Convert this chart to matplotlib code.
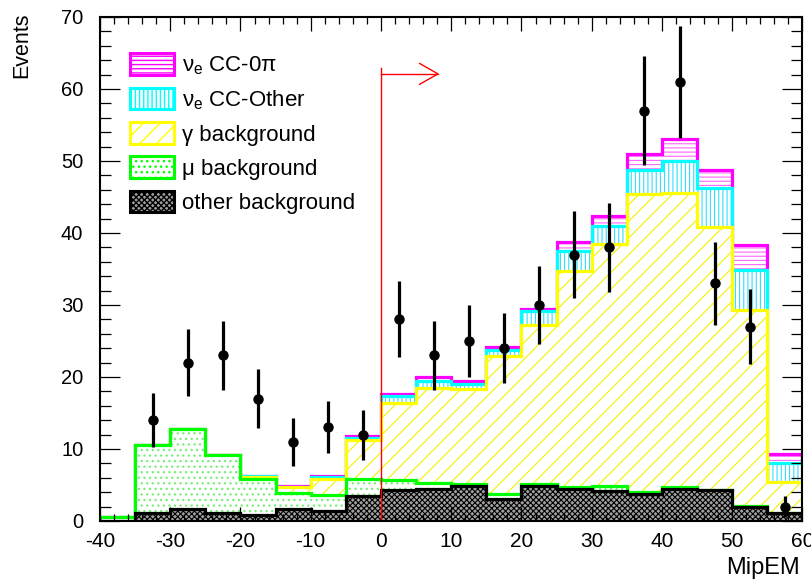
import numpy as np
import matplotlib
matplotlib.use("Agg")
import matplotlib.pyplot as plt
from matplotlib.patches import Patch
from matplotlib.ticker import MultipleLocator

plt.rcParams['font.family'] = ['Liberation Sans', 'DejaVu Sans']
plt.rcParams['mathtext.fontset'] = 'custom'
plt.rcParams['mathtext.rm'] = 'Liberation Sans'
plt.rcParams['axes.unicode_minus'] = False
plt.rcParams['hatch.linewidth'] = 1.0

# MipEM binning
bin_edges = np.arange(-40, 61, 5)

# per-component expected events (stack order bottom -> top)
other_bkg = [0.0, 1.1, 1.65, 1.15, 0.9, 1.6, 1.4, 3.45, 4.3, 4.5,
             4.85, 3.05, 4.85, 4.45, 4.15, 3.7, 4.5, 4.3, 2.0, 1.05]
mu_bkg = [0.6, 9.4, 11.15, 7.95, 4.9, 2.3, 2.2, 2.35, 1.4, 0.8,
          0.25, 0.7, 0.25, 0.25, 0.7, 0.35, 0.25, 0.05, 0.05, 0.05]
gamma_bkg = [0.0, 0.0, 0.0, 0.0, 0.35, 0.8, 2.2, 5.45, 10.7, 13.2,
             13.3, 19.15, 22.1, 30.0, 33.65, 41.35, 40.85, 36.55, 27.25, 4.3]
nue_cc_other = [0.0, 0.0, 0.0, 0.0, 0.1, 0.05, 0.35, 0.3, 0.9, 1.0,
                0.6, 0.8, 1.9, 2.8, 2.5, 3.35, 4.4, 5.4, 5.6, 2.7]
nue_cc_0pi = [0.0, 0.0, 0.0, 0.0, 0.05, 0.15, 0.15, 0.2, 0.4, 0.5,
              0.5, 0.5, 0.3, 1.3, 1.4, 2.25, 3.1, 2.5, 3.5, 1.2]

# observed events per bin
data_counts = [0, 14, 22, 23, 17, 11, 13, 12, 28, 23,
               25, 24, 30, 37, 38, 57, 61, 33, 27, 2]

# selection cut on MipEM
cut_value = 0.0
cut_height = 62.9
arrow_y = 62.1
arrow_length = 8.1

# (values, outline colour, fill colour, hatch, hatch colour, hatch width)
components = [
    (other_bkg, 'black', '#a0a0a0', 'xxxxxx', 'black', 0.8),
    (mu_bkg, '#00ff00', 'white', '...', '#77ee77', 0.9),
    (gamma_bkg, '#ffff00', 'white', '//', '#f2f200', 0.8),
    (nue_cc_other, '#00ffff', 'white', '||||', '#33ddff', 0.8),
    (nue_cc_0pi, '#ff00ff', 'white', '----', '#ff66ff', 0.8),
]
legend_labels = ['other background', 'μ background', 'γ background',
                 'ν$_\\mathregular{e}$ CC-Other', 'ν$_\\mathregular{e}$ CC-0π']

fig = plt.figure(figsize=(8.12, 5.82), dpi=100)
ax = fig.add_axes([100 / 812, 61 / 582, 702.5 / 812, 504 / 582])

cumulative = np.cumsum(np.array([c[0] for c in components], dtype=float), axis=0)

# draw the stack top-down so every lower layer covers the one above it
n = len(components)
for i in reversed(range(n)):
    _, edge, face, hatch, hcol, hlw = components[i]
    with plt.rc_context({'hatch.linewidth': hlw}):
        ax.stairs(cumulative[i], bin_edges, baseline=0, fill=True,
                  facecolor=face, edgecolor=hcol, hatch=hatch, linewidth=0,
                  zorder=1.0 + 0.1 * (n - i))
    ax.stairs(cumulative[i], bin_edges, baseline=0, fill=False,
              color=edge, linewidth=2.3, zorder=1.05 + 0.1 * (n - i))

# data with Poisson errors
centers = 0.5 * (bin_edges[:-1] + bin_edges[1:])
counts = np.array(data_counts, dtype=float)
mask = counts > 0
ax.errorbar(centers[mask], counts[mask], yerr=np.sqrt(counts[mask]),
            fmt='o', color='black', markersize=6.5, elinewidth=2.3,
            capsize=0, zorder=5)

# cut line and arrow
ax.plot([cut_value, cut_value], [0, cut_height], color='red', lw=1.0, zorder=4)
ax.plot([cut_value, cut_value + arrow_length], [arrow_y, arrow_y],
        color='red', lw=1.0, zorder=4)
ax.plot([cut_value + arrow_length - 2.6, cut_value + arrow_length,
         cut_value + arrow_length - 2.6],
        [arrow_y + 1.45, arrow_y, arrow_y - 1.45], color='red', lw=1.0, zorder=4)

ax.set_xlim(-40, 60)
ax.set_ylim(0, 70)
ax.xaxis.set_major_locator(MultipleLocator(10))
ax.xaxis.set_minor_locator(MultipleLocator(2))
ax.yaxis.set_major_locator(MultipleLocator(10))
ax.yaxis.set_minor_locator(MultipleLocator(2))
ax.tick_params(axis='both', which='both', direction='in', top=True, right=True,
               width=0.9, colors='black')
ax.tick_params(axis='x', which='major', length=10, pad=8, labelsize=15)
ax.tick_params(axis='x', which='minor', length=5)
ax.tick_params(axis='y', which='major', length=14.5, pad=12, labelsize=14.5)
ax.tick_params(axis='y', which='minor', length=8)
for sp in ax.spines.values():
    sp.set_linewidth(1.5)
    sp.set_zorder(6)

fig.text(800 / 812, 1 - 568 / 582, 'MipEM', ha='right', va='center', fontsize=17)
fig.text(22 / 812, 1 - 12 / 582, 'Events', ha='center', va='top',
         rotation=90, fontsize=15.5)

handles = []
for (vals, edge, face, hatch, hcol, hlw) in components[::-1]:
    with plt.rc_context({'hatch.linewidth': hlw}):
        handles.append(Patch(facecolor=face, edgecolor=edge, hatch=hatch,
                             linewidth=2.2))
leg = ax.legend(handles, legend_labels[::-1], loc='upper left',
                bbox_to_anchor=((130 - 100) / 702.5, (521 - 53) / 504),
                frameon=False, fontsize=16, borderpad=0, borderaxespad=0,
                handlelength=2.0, handleheight=1.13, labelspacing=0.48,
                handletextpad=0.35)
leg.set_zorder(7)

fig.savefig('out.png', dpi=100)
